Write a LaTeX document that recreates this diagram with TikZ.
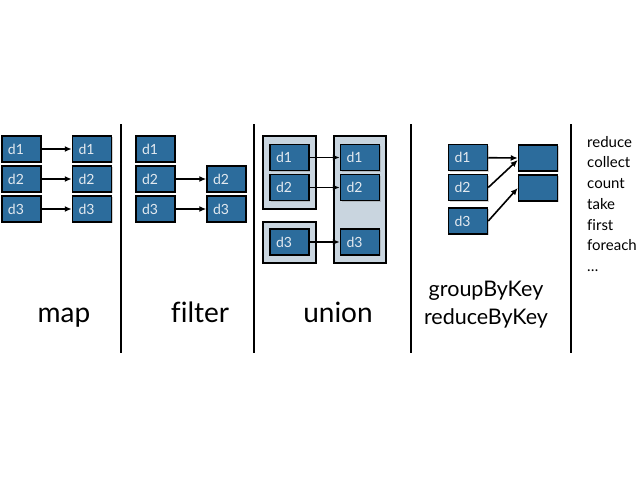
\documentclass[tikz,border=0pt]{standalone}
\usepackage{fontspec}
\setmainfont[Ligatures=NoCommon]{Lato}
\usetikzlibrary{shadows,arrows.meta}
\definecolor{boxblue}{HTML}{2C6C9C}
\definecolor{grpfill}{HTML}{C9D5DF}
\definecolor{boxtxt}{HTML}{E4EAF0}
\tikzset{
  dbox/.style={draw=black, line width=1.5pt, fill=boxblue, minimum width=39pt, minimum height=26pt,
    inner sep=0pt, text=boxtxt, font=\fontsize{14}{16}\selectfont, text width=27pt, align=left,
    drop shadow={shadow xshift=1pt, shadow yshift=-1.2pt, opacity=0.35}},
  grp/.style={draw=black, line width=1.5pt, fill=grpfill, inner sep=0pt,
    drop shadow={shadow xshift=1pt, shadow yshift=-1.2pt, opacity=0.35}},
  conn/.style={-{Latex[length=7pt,width=6pt]}, line width=1.6pt, black},
  divider/.style={line width=1.5pt, black},
  biglab/.style={font=\fontsize{28}{32}\selectfont, inner sep=0pt, anchor=base},
  midlab/.style={font=\fontsize{21.5}{28}\selectfont, inner sep=0pt, align=center},
  listlab/.style={font=\fontsize{15}{20.7}\selectfont, inner sep=0pt, align=left, anchor=north west}
}
\begin{document}
\begin{tikzpicture}[x=1pt,y=-1pt]
\useasboundingbox[fill=white] (0,0) rectangle (640,480);
% dividers
\coordinate (v1t) at (121,124); \coordinate (v1b) at (121,353);
\coordinate (v2t) at (254,124); \coordinate (v2b) at (254,353);
\coordinate (v3t) at (411,124); \coordinate (v3b) at (411,353);
\coordinate (v4t) at (571,124); \coordinate (v4b) at (571,353);
\draw[divider] (v1t) -- (v1b);
\draw[divider] (v2t) -- (v2b);
\draw[divider] (v3t) -- (v3b);
\draw[divider] (v4t) -- (v4b);
% map
\node[dbox] (m1) at (21.5,149) {d1};
\node[dbox] (m2) at (21.5,179) {d2};
\node[dbox] (m3) at (21.5,209) {d3};
\node[dbox] (m1r) at (92,149) {d1};
\node[dbox] (m2r) at (92,179) {d2};
\node[dbox] (m3r) at (92,209) {d3};
\draw[conn] (m1) -- (m1r);
\draw[conn] (m2) -- (m2r);
\draw[conn] (m3) -- (m3r);
% filter
\node[dbox] (f1) at (155.5,149) {d1};
\node[dbox] (f2) at (155.5,179) {d2};
\node[dbox] (f3) at (155.5,209) {d3};
\node[dbox] (f2r) at (226.5,179) {d2};
\node[dbox] (f3r) at (226.5,209) {d3};
\draw[conn] (f2) -- (f2r);
\draw[conn] (f3) -- (f3r);
% union
\node[grp, minimum width=53pt, minimum height=73pt] (ga) at (289.5,172.5) {};
\node[grp, minimum width=53pt, minimum height=41pt] (gb) at (289.5,242.5) {};
\node[grp, minimum width=52pt, minimum height=127pt] (gc) at (360,199.5) {};
\node[dbox] (u1) at (289.5,157.5) {d1};
\node[dbox] (u2) at (289.5,187.5) {d2};
\node[dbox] (u3) at (289.5,242) {d3};
\node[dbox] (u1r) at (360,157.5) {d1};
\node[dbox] (u2r) at (360,187.5) {d2};
\node[dbox] (u3r) at (360,242) {d3};
\draw[conn] (u1) -- (u1r);
\draw[conn] (u2) -- (u2r);
\draw[conn] (u3) -- (u3r);
% groupByKey
\node[dbox] (g1) at (468,157.5) {d1};
\node[dbox] (g2) at (468,187.5) {d2};
\node[dbox] (g3) at (468,221) {d3};
\node[dbox] (k1) at (538,158) {};
\node[dbox] (k2) at (538,188) {};
\draw[conn] (g1) -- (k1.west);
\draw[conn] (g2.east) -- ([yshift=-2pt]k1.west);
\draw[conn] (g3.east) -- (k2.west);
% labels
\node[biglab] (lmap) at (64,322) {map};
\node[biglab] (lfilter) at (200,322) {filter};
\node[biglab] (lunion) at (338,322) {union};
\node[midlab] (lgroup) at (486,305) {groupByKey\\reduceByKey};
\node[listlab] (lact) at (587,136) {reduce\\collect\\count\\take\\first\\foreach\\\dots};
\end{tikzpicture}
\end{document}
